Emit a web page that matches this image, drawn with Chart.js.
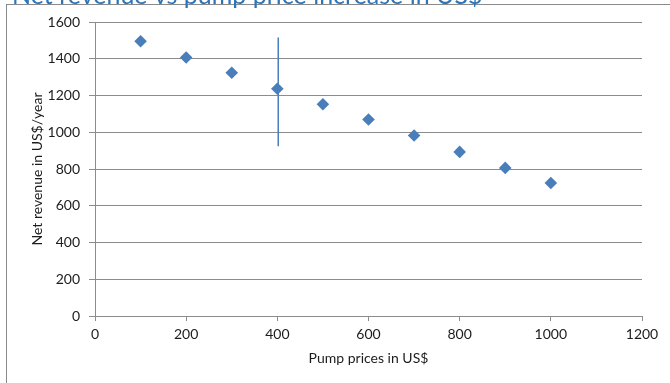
<!DOCTYPE html>
<html>
<head>
<meta charset="utf-8">
<title>Net revenue vs pump price increase in US$</title>
<script src="https://cdn.jsdelivr.net/npm/chart.js@4/dist/chart.umd.min.js"></script>
<style>
  html, body { margin: 0; padding: 0; background: #ffffff; }
  #wrap { width: 670px; height: 383px; position: relative; }
</style>
</head>
<body>
<div id="wrap"><canvas id="chart" width="670" height="383"></canvas></div>
<script>
// Chart text
const chartTitle = 'Net revenue vs pump price increase in US$';
const xAxisTitle = 'Pump prices in US$';
const yAxisTitle = 'Net revenue in US$/year';

// Pump price (US$) and net revenue (US$/year)
const pumpPrices = [100, 200, 300, 400, 500, 600, 700, 800, 900, 1000];
const netRevenue = [1495, 1407, 1324, 1237, 1152, 1069, 982, 893, 806, 724];

// Vertical range line at the 400 US$ price
const rangeLineX = [402, 402];
const rangeLineY = [924, 1515];

// Axis tick values
const xTicks = [0, 200, 400, 600, 800, 1000, 1200];
const yTicks = [0, 200, 400, 600, 800, 1000, 1200, 1400, 1600];

const FONT = 'Lato, "Open Sans", "Liberation Sans", sans-serif';
const markerBlue = '#4a7ebb';
const axisGrey = '#8c8c8c';
const textColor = '#1c1c1c';

// Background, outer frame and the chart heading
const framePlugin = {
  id: 'frameAndHeading',
  beforeDraw(chart) {
    const ctx = chart.ctx;
    ctx.save();
    ctx.fillStyle = '#ffffff';
    ctx.fillRect(0, 0, chart.width, chart.height);
    ctx.strokeStyle = '#8a8a8a';
    ctx.lineWidth = 1;
    ctx.strokeRect(6.5, 4.5, chart.width + 20, chart.height + 20);
    ctx.font = '25px ' + FONT;
    ctx.fillStyle = '#2d74b9';
    ctx.textBaseline = 'alphabetic';
    ctx.textAlign = 'left';
    ctx.fillText(chartTitle, 12, 4);
    ctx.restore();
  }
};

const tickFont = { family: FONT, size: 14 };
const plainNumber = v => String(v);

new Chart(document.getElementById('chart'), {
  type: 'scatter',
  data: {
    datasets: [
      {
        label: 'Net revenue',
        data: pumpPrices.map((p, i) => ({ x: p, y: netRevenue[i] })),
        pointStyle: 'rectRot',
        pointRadius: 6.3,
        pointHoverRadius: 6.3,
        backgroundColor: markerBlue,
        borderColor: markerBlue,
        borderWidth: 0,
        showLine: false,
        order: 1
      },
      {
        label: 'Range',
        type: 'line',
        data: rangeLineX.map((x, i) => ({ x: x, y: rangeLineY[i] })),
        borderColor: markerBlue,
        borderWidth: 1.5,
        pointRadius: 0,
        fill: false,
        order: 0
      }
    ]
  },
  options: {
    responsive: false,
    animation: false,
    devicePixelRatio: 1,
    layout: { padding: { left: 0, top: 22, right: 28, bottom: 0 } },
    plugins: {
      legend: { display: false },
      title: { display: false },
      tooltip: { enabled: false }
    },
    scales: {
      x: {
        type: 'linear',
        min: 0,
        max: 1200,
        afterBuildTicks(scale) { scale.ticks = xTicks.map(v => ({ value: v })); },
        afterFit(scale) { scale.height = 67; },
        grid: { drawOnChartArea: false, drawTicks: true, tickLength: 5, color: axisGrey, lineWidth: 1 },
        border: { color: axisGrey, width: 1 },
        ticks: { font: tickFont, color: textColor, padding: 5, maxRotation: 0, autoSkip: false, callback: plainNumber },
        title: { display: true, text: xAxisTitle, font: tickFont, color: textColor, padding: { top: 0, bottom: 16 } }
      },
      y: {
        type: 'linear',
        min: 0,
        max: 1600,
        afterBuildTicks(scale) { scale.ticks = yTicks.map(v => ({ value: v })); },
        afterFit(scale) { scale.width = 95; },
        grid: { drawOnChartArea: true, drawTicks: true, tickLength: 6, color: axisGrey, lineWidth: 1 },
        border: { color: axisGrey, width: 1 },
        ticks: { font: tickFont, color: textColor, padding: 9, autoSkip: false, callback: plainNumber },
        title: { display: true, text: yAxisTitle, font: tickFont, color: textColor, padding: { top: 29, bottom: 0 } }
      }
    }
  },
  plugins: [framePlugin]
});
</script>
</body>
</html>
